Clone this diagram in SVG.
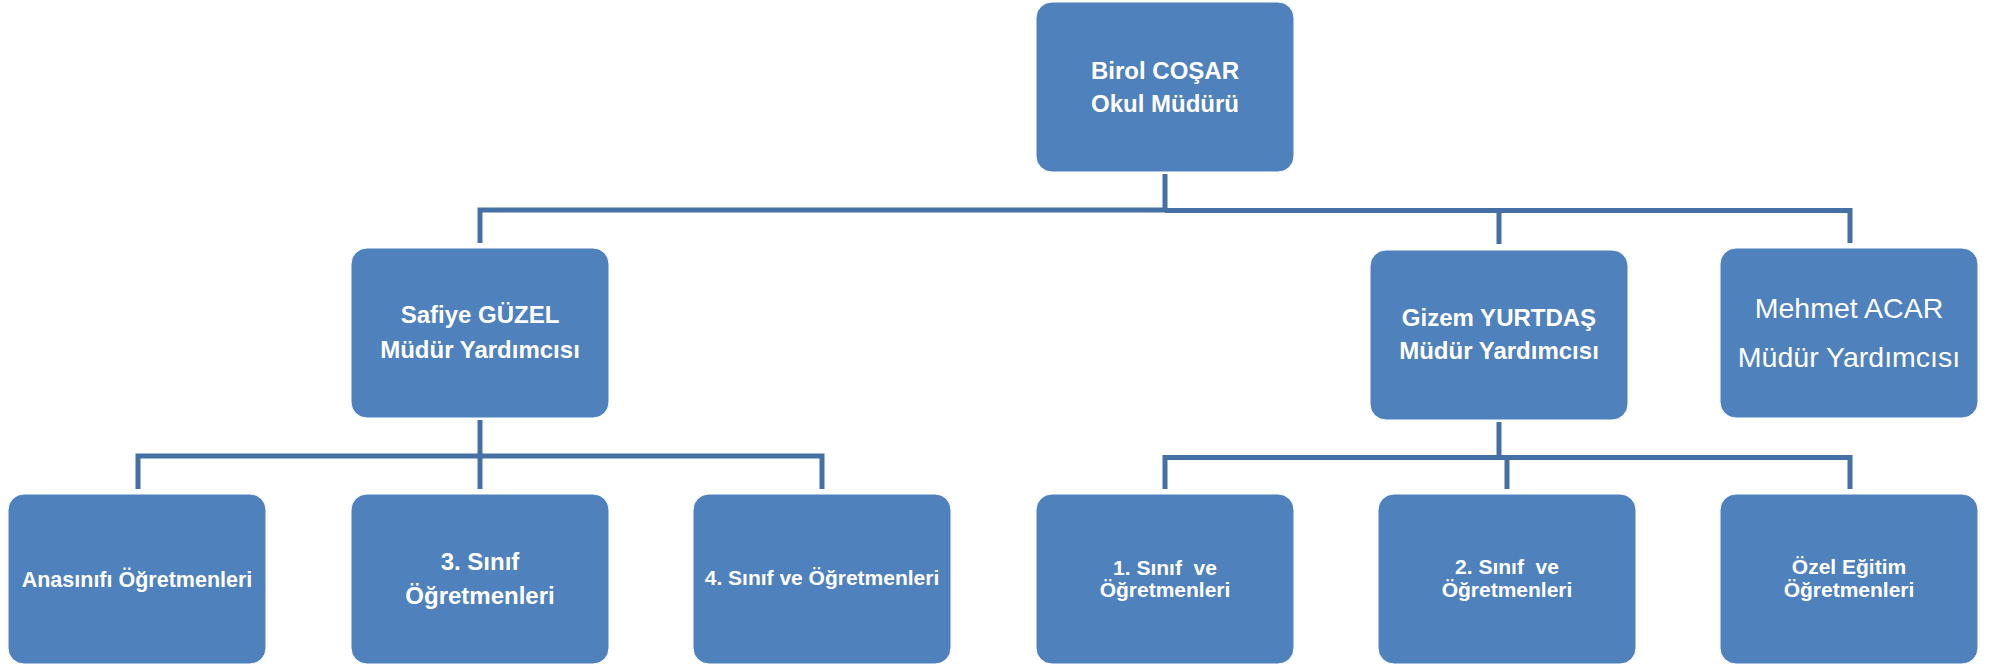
<svg xmlns="http://www.w3.org/2000/svg" width="1992" height="666" viewBox="0 0 1992 666">
<style>
.box{fill:#4F81BD;stroke:#ffffff;stroke-width:1}
.ln{fill:none;stroke:#4570A6;stroke-width:5}
.tb{font-family:"Liberation Sans",Arial,sans-serif;font-weight:bold;fill:#ffffff;text-anchor:middle;white-space:pre}
.tr{font-family:"Liberation Sans",Arial,sans-serif;font-weight:normal;fill:#ffffff;text-anchor:middle}
</style>
<rect width="1992" height="666" fill="#ffffff"/>
<g id="connectors">
<path class="ln" d="M1165 174 V210 M480 243 V210 H1165 M1165 210.5 H1850 V243 M1499 210.5 V244"/>
<path class="ln" d="M480 420 V489 M138 489 V456 H480 M480 456 H822 V489"/>
<path class="ln" d="M1499 422 V457 M1165 489 V457.5 H1850 V489 M1507 457.5 V489"/>
</g>
<g id="n-birol">
<rect class="box" x="1036" y="2" width="258" height="170" rx="16"/>
<text class="tb" font-size="24" x="1165" y="79">Birol COŞAR</text>
<text class="tb" font-size="24" x="1165" y="112">Okul Müdürü</text>
</g>
<g id="n-safiye">
<rect class="box" x="351" y="248" width="258" height="170" rx="16"/>
<text class="tb" font-size="24" x="480" y="323">Safiye GÜZEL</text>
<text class="tb" font-size="24" x="480" y="358">Müdür Yardımcısı</text>
</g>
<g id="n-gizem">
<rect class="box" x="1370" y="250" width="258" height="170" rx="16"/>
<text class="tb" font-size="24" x="1499" y="326">Gizem YURTDAŞ</text>
<text class="tb" font-size="24" x="1499" y="359">Müdür Yardımcısı</text>
</g>
<g id="n-mehmet">
<rect class="box" x="1720" y="248" width="258" height="170" rx="16"/>
<text class="tr" font-size="28.5" x="1849" y="318">Mehmet ACAR</text>
<text class="tr" font-size="28.5" x="1849" y="367">Müdür Yardımcısı</text>
</g>
<g id="n-anasinifi">
<rect class="box" x="8" y="494" width="258" height="170" rx="16"/>
<text class="tb" font-size="21.5" x="137" y="587">Anasınıfı Öğretmenleri</text>
</g>
<g id="n-sinif3">
<rect class="box" x="351" y="494" width="258" height="170" rx="16"/>
<text class="tb" font-size="24" x="480" y="570">3. Sınıf</text>
<text class="tb" font-size="24" x="480" y="604">Öğretmenleri</text>
</g>
<g id="n-sinif4">
<rect class="box" x="693" y="494" width="258" height="170" rx="16"/>
<text class="tb" font-size="21" x="822" y="585">4. Sınıf ve Öğretmenleri</text>
</g>
<g id="n-sinif1">
<rect class="box" x="1036" y="494" width="258" height="170" rx="16"/>
<text class="tb" font-size="21" x="1165" y="575">1. Sınıf  ve</text>
<text class="tb" font-size="21" x="1165" y="597">Öğretmenleri</text>
</g>
<g id="n-sinif2">
<rect class="box" x="1378" y="494" width="258" height="170" rx="16"/>
<text class="tb" font-size="21" x="1507" y="574">2. Sınıf  ve</text>
<text class="tb" font-size="21" x="1507" y="597">Öğretmenleri</text>
</g>
<g id="n-ozel">
<rect class="box" x="1720" y="494" width="258" height="170" rx="16"/>
<text class="tb" font-size="21" x="1849" y="574">Özel Eğitim</text>
<text class="tb" font-size="21" x="1849" y="597">Öğretmenleri</text>
</g>
</svg>
